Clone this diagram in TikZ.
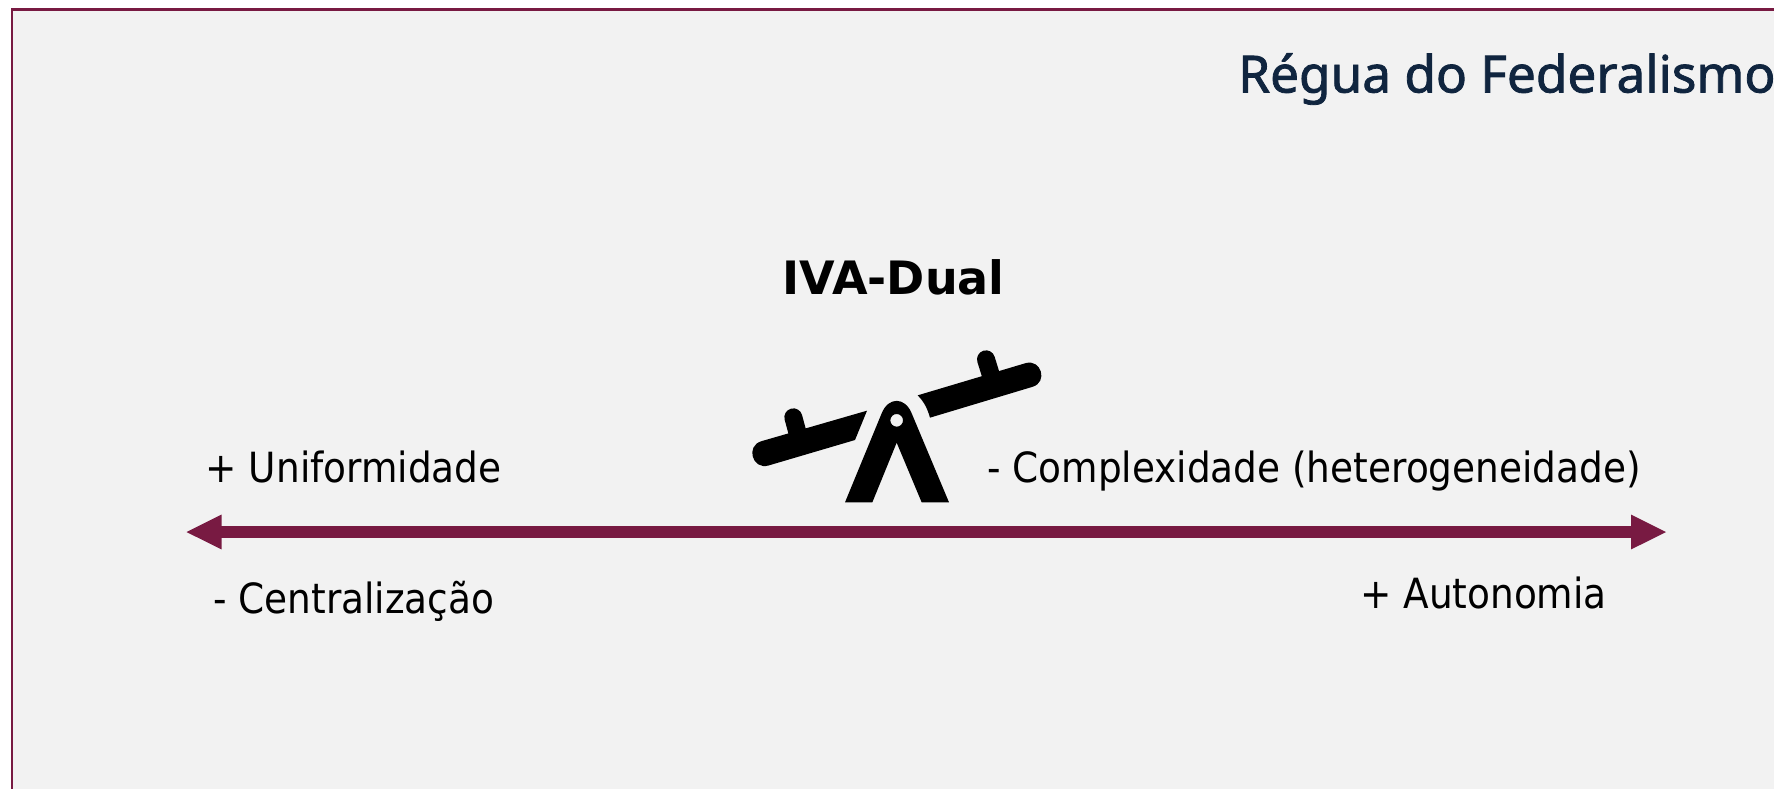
\documentclass[tikz,border=0pt]{standalone}
\usepackage{fontspec}
\newfontfamily\bodyfont{DejaVu Sans Condensed}
\newfontfamily\headfont{DejaVu Sans}
\newfontfamily\titlefont{Noto Sans}[FakeBold=1.6]
\definecolor{wine}{HTML}{781A42}
\definecolor{panel}{HTML}{F2F2F2}
\definecolor{navy}{HTML}{10253F}
\usetikzlibrary{arrows.meta}
\tikzset{
  label text/.style={font=\bodyfont\fontsize{41.6}{50}\selectfont,text=black,inner sep=0pt,anchor=west},
  ruler/.style={wine,line width=12pt,{Triangle[length=36pt,width=32pt]}-{Triangle[length=36pt,width=32pt]}},
  icon/.style={fill=black,draw=none}
}
\begin{document}
\begin{tikzpicture}[x=1pt,y=-1pt]
\useasboundingbox (0,0) rectangle (1774,788);
\fill[white] (0,0) rectangle (1774,788);
\clip (0,0) rectangle (1774,788);
\draw[wine,line width=2.4pt,fill=panel] (12,9.5) rectangle (1800,820);
\node[inner sep=0pt,anchor=west,text=navy,font=\titlefont\fontsize{51.3}{62}\selectfont] (title) at (1238,79) {Régua do Federalismo};
\node[inner sep=0pt,text=black,font=\headfont\bfseries\fontsize{46}{56}\selectfont] (iva) at (893.5,277) {IVA-Dual};
\node[label text] (unif) at (205.5,467) {+ Uniformidade};
\node[label text] (cent) at (213,601) {- Centralização};
\node[label text] (comp) at (987,471) {- Complexidade (heterogeneidade)};
\node[label text] (auto) at (1360,593) {+ Autonomia};
\coordinate (rl) at (185.5,532);
\coordinate (rr) at (1667,532);
\draw[ruler] (rl) -- (rr);
\begin{scope}[shift={(730,330)},scale=1/3]
\fill[icon] (411,242) -- (94.5,333.5) .. controls (45.8,347.5) and (66.8,420.5) .. (115.5,406.5) -- (375,330) -- cycle;
\draw[line width=18pt,line cap=round] (190,262) -- (203,310);
\fill[icon] (563,196) -- (886.6,99.5) .. controls (933.9,85.7) and (954.7,156.7) .. (907.4,170.5) -- (600,263) .. controls (592,235) and (582,215) .. (563,196) -- cycle;
\draw[line width=18pt,line cap=round] (768,88) -- (781,130);
\fill[icon,even odd rule] (345,517) -- (455,250) .. controls (475,200) and (525,200) .. (545,250) -- (657,517) -- (575,517) -- (500,338) -- (427,517) -- cycle
  (500,271) circle[radius=19];
\end{scope}
\end{tikzpicture}
\end{document}
